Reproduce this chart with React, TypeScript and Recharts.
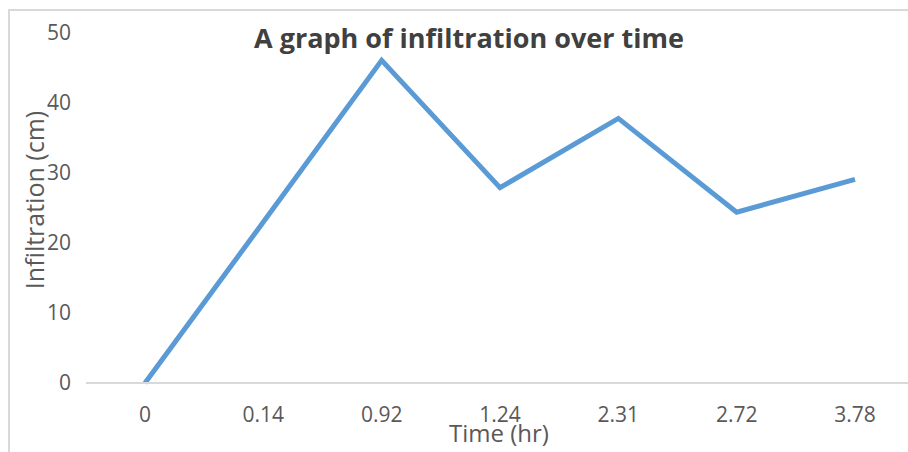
import React from 'react';
import { LineChart, Line, XAxis, YAxis } from 'recharts';

const times = ['0', '0.14', '0.92', '1.24', '2.31', '2.72', '3.78'];
const infiltration = [0, 23, 46.1, 27.9, 37.8, 24.4, 29.1];
const yTicks = [0, 10, 20, 30, 40, 50];

const data = times.map((t, i) => ({ time: t, value: infiltration[i] }));

const font = '"Open Sans", sans-serif';

const App = () => {
  return (
    <div style={{ position: 'absolute', left: 0, top: 0, width: 908, height: 452, overflow: 'hidden', background: '#fff' }}>
      <div style={{ position: 'absolute', left: 8, top: 9, width: 1000, height: 1000, borderLeft: '2px solid #d9d9d9', borderTop: '2px solid #d9d9d9' }} />
      <div style={{ position: 'absolute', left: 0, top: 0 }}>
        <LineChart width={916} height={452} data={data} margin={{ top: 33, right: 2, bottom: 29, left: 26 }}>
          <XAxis
            dataKey="time"
            height={40}
            padding={{ left: 59, right: 59 }}
            axisLine={{ stroke: '#d9d9d9', strokeWidth: 2 }}
            tickLine={false}
            tickSize={0}
            tickMargin={24}
            tick={{ fill: '#595959', fontSize: 21, fontFamily: font }}
          />
          <YAxis
            width={60}
            domain={[0, 50]}
            ticks={yTicks}
            axisLine={false}
            tickLine={false}
            tickSize={0}
            tickMargin={15}
            tick={{ fill: '#595959', fontSize: 21, fontFamily: font }}
          />
          <Line type="linear" dataKey="value" stroke="#5b9bd5" strokeWidth={5} dot={false} isAnimationActive={false} />
          <text x={469} y={48} textAnchor="middle" fontFamily={font} fontWeight="bold" fontSize={27} fill="#404040">
            A graph of infiltration over time
          </text>
          <text x={34} y={200} transform="rotate(-90 34 200)" textAnchor="middle" dominantBaseline="central" fontFamily={font} fontSize={25} fill="#595959">
            Infiltration (cm)
          </text>
          <text x={499} y={432} textAnchor="middle" dominantBaseline="central" fontFamily={font} fontSize={24} fill="#595959">
            Time (hr)
          </text>
        </LineChart>
      </div>
    </div>
  );
};

export default App;
